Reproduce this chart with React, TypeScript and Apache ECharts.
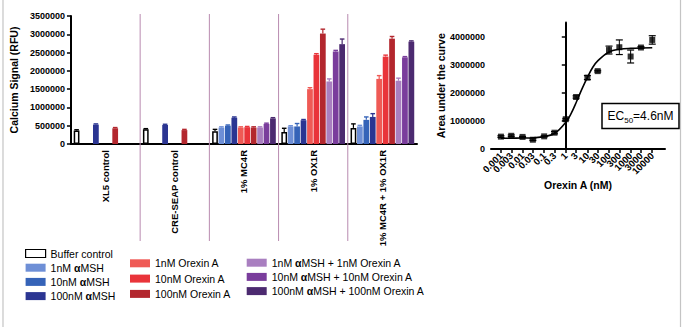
import React, { useEffect, useRef } from 'react';
import * as echarts from 'echarts';

// ---------- Left chart data ----------
const categories = ['XL5 control', 'CRE-SEAP control', '1% MC4R', '1% OX1R', '1% MC4R + 1% OX1R'];
const seriesNames = [
  'Buffer control',
  '1nM αMSH',
  '10nM αMSH',
  '100nM αMSH',
  '1nM Orexin A',
  '10nM Orexin A',
  '100nM Orexin A',
  '1nM αMSH + 1nM Orexin A',
  '10nM αMSH + 10nM Orexin A',
  '100nM αMSH + 100nM Orexin A',
];
const seriesColors = [
  '#ffffff', '#6e8fd6', '#3563b8', '#2b3592',
  '#ef5a55', '#e9343a', '#b3272e',
  '#a97fc0', '#7a3d9c', '#4c2a70',
];
const bufferControl = [370000, 400000, 350000, 330000, 440000];
const msh1 = [null, null, 450000, 480000, 480000];
const msh10 = [null, null, 500000, 480000, 660000];
const msh100 = [530000, 520000, 720000, 650000, 740000];
const orx1 = [null, null, 450000, 1500000, 1780000];
const orx10 = [null, null, 460000, 2440000, 2390000];
const orx100 = [430000, 380000, 450000, 3020000, 2880000];
const mix1 = [null, null, 450000, 1710000, 1730000];
const mix10 = [null, null, 550000, 2530000, 2370000];
const mix100 = [null, null, 700000, 2730000, 2800000];

const bufferErr = [20000, 20000, 50000, 100000, 110000];
const msh1Err = [null, null, 20000, 20000, 30000];
const msh10Err = [null, null, 20000, 80000, 80000];
const msh100Err = [20000, 20000, 20000, 20000, 90000];
const orx1Err = [null, null, 20000, 40000, 90000];
const orx10Err = [null, null, 20000, 30000, 40000];
const orx100Err = [20000, 20000, 20000, 120000, 60000];
const mix1Err = [null, null, 20000, 70000, 70000];
const mix10Err = [null, null, 20000, 30000, 20000];
const mix100Err = [null, null, 20000, 140000, 20000];

const barValues = [bufferControl, msh1, msh10, msh100, orx1, orx10, orx100, mix1, mix10, mix100];
const barErrors = [bufferErr, msh1Err, msh10Err, msh100Err, orx1Err, orx10Err, orx100Err, mix1Err, mix10Err, mix100Err];

// ---------- Right chart data ----------
const concentrations = [0.001, 0.003, 0.01, 0.03, 0.1, 0.3, 1, 3, 10, 30, 100, 300, 1000, 3000, 10000];
const concLabels = ['0.001', '0.003', '0.01', '0.03', '0.1', '0.3', '1', '3', '10', '30', '100', '300', '1000', '3000', '10000'];
const auc = [440000, 470000, 430000, 330000, 450000, 580000, 1060000, 1850000, 2540000, 2770000, 3520000, 3620000, 3290000, 3610000, 3880000];
const aucErr = [30000, 30000, 20000, 30000, 20000, 40000, 30000, 40000, 70000, 30000, 140000, 260000, 230000, 30000, 150000];
// fitted curve (x in log10 nM)
const curveLogConc = [-3, -2, -1.5, -1, -0.5, 0, 0.25, 0.5, 0.75, 1, 1.25, 1.5, 2, 2.5, 3, 4];
const curveAuc = [380000, 390000, 400000, 440000, 560000, 950000, 1270000, 1690000, 2140000, 2550000, 2910000, 3150000, 3450000, 3550000, 3580000, 3600000];
const aucTicks = [0, 1000000, 2000000, 3000000, 4000000];
const LOG_MIN = -3.46;
const LOG_MAX = 4.59;

const FONT = '"Liberation Sans", Arial, Helvetica, sans-serif';
const N = seriesNames.length;
const CAT_GAP = 0.08;
const BAR_GAP = 0.12;
const SEP_COLOR = '#b98bb0';

export default function App() {
  const ref = useRef<HTMLDivElement>(null);
  useEffect(() => {
    if (!ref.current) return;
    const chart = echarts.init(ref.current, null, { renderer: 'svg' });

    const barSeries = barValues.map((vals, si) => ({
      name: seriesNames[si],
      type: 'bar',
      xAxisIndex: 0,
      yAxisIndex: 0,
      data: vals,
      barGap: BAR_GAP * 100 + '%',
      barCategoryGap: CAT_GAP * 100 + '%',
      itemStyle: si === 0
        ? { color: '#ffffff', borderColor: '#000000', borderWidth: 1.5 }
        : { color: seriesColors[si] },
      emphasis: { disabled: true },
    }));

    const errData: number[][] = [];
    barValues.forEach((vals, si) => {
      vals.forEach((v, ci) => {
        const e = barErrors[si][ci];
        if (v != null && e != null) errData.push([ci, si, v as number, e as number]);
      });
    });

    const tok = { fontSize: 10.5, color: '#000', fontFamily: FONT, lineHeight: 12 };
    const legendCommon = {
      orient: 'vertical',
      itemWidth: 20,
      itemHeight: 8,
      padding: 0,
      icon: 'rect',
      selectedMode: false,
      formatter: (name: string) =>
        name
          .split('α')
          .map((s) => (s ? `{n|${s}}` : ''))
          .join('{b|α}'),
      textStyle: {
        ...tok,
        rich: {
          n: { ...tok, fontWeight: 'normal' },
          b: { ...tok, fontWeight: 'bold' },
        },
      },
    };

    const legendData = seriesNames.map((n, i) =>
      i === 0 ? { name: n, itemStyle: { color: '#fff', borderColor: '#000', borderWidth: 1.2 } } : { name: n }
    );

    const concLog = concentrations.map((c) => Math.log10(c));

    const option: any = {
      animation: false,
      textStyle: { fontFamily: FONT },
      grid: [
        { left: 65, top: 16, right: 268, bottom: 183 },
        { left: 491, top: 22.5, right: 20, bottom: 178 },
      ],
      legend: [
        { ...legendCommon, data: legendData.slice(0, 4), left: 25, top: 247.5, itemGap: 2.2 },
        { ...legendCommon, data: legendData.slice(4, 7), left: 130, top: 257.3, itemGap: 3.3 },
        { ...legendCommon, data: legendData.slice(7, 10), left: 246.7, top: 256.7, itemGap: 2.2 },
      ],
      xAxis: [
        {
          type: 'category',
          gridIndex: 0,
          data: categories,
          axisLine: { lineStyle: { color: '#000', width: 2 } },
          axisTick: { alignWithLabel: true, length: 4, lineStyle: { color: '#000', width: 1.5 } },
          axisLabel: { rotate: 90, fontSize: 9.5, fontWeight: 'bold', color: '#000', margin: 6, interval: 0 },
          splitLine: { show: false },
        },
        {
          type: 'value',
          gridIndex: 1,
          min: LOG_MIN,
          max: LOG_MAX,
          name: 'Orexin A (nM)',
          nameLocation: 'middle',
          nameGap: 28,
          nameTextStyle: { fontSize: 10.5, fontWeight: 'bold', color: '#000' },
          axisLine: { lineStyle: { color: '#000', width: 2 } },
          axisTick: { length: 4, customValues: concLog, lineStyle: { color: '#000', width: 1.5 } },
          axisLabel: {
            customValues: [LOG_MIN, ...concLog, LOG_MAX],
            rotate: 45,
            fontSize: 9.5,
            lineHeight: 6,
            fontWeight: 'bold',
            color: '#000',
            margin: 5,
            hideOverlap: false,
            formatter: (v: number) => {
              const i = concentrations.findIndex((c) => Math.abs(Math.log10(c) - v) < 1e-6);
              return i >= 0 ? concLabels[i] : '';
            },
          },
          splitLine: { show: false },
        },
      ],
      yAxis: [
        {
          type: 'value',
          gridIndex: 0,
          min: 0,
          max: 3500000,
          interval: 500000,
          name: 'Calcium Signal (RFU)',
          nameLocation: 'middle',
          nameGap: 46,
          nameTextStyle: { fontSize: 10.5, fontWeight: 'bold', color: '#000' },
          axisLine: { show: true, lineStyle: { color: '#000', width: 2 } },
          axisTick: { show: true, length: 4, lineStyle: { color: '#000', width: 1.5 } },
          axisLabel: { fontSize: 9, fontWeight: 'bold', color: '#000', margin: 6, formatter: (v: number) => String(v) },
          splitLine: { show: false },
        },
        {
          type: 'value',
          gridIndex: 1,
          min: 0,
          max: 4500000,
          name: 'Area under the curve',
          nameLocation: 'middle',
          nameGap: 45,
          nameTextStyle: { fontSize: 10.5, fontWeight: 'bold', color: '#000' },
          axisLine: { show: true, lineStyle: { color: '#000', width: 2 } },
          axisTick: { show: true, length: 4, customValues: aucTicks, lineStyle: { color: '#000', width: 1.5 } },
          axisLabel: { customValues: aucTicks, fontSize: 9, fontWeight: 'bold', color: '#000', margin: 6, formatter: (v: number) => String(v) },
          splitLine: { show: false },
        },
      ],
      series: [
        ...barSeries,
        {
          type: 'custom',
          name: 'bar-errors',
          xAxisIndex: 0,
          yAxisIndex: 0,
          data: errData,
          encode: { x: 0, y: 2 },
          z: 3,
          silent: true,
          renderItem: (_p: any, api: any) => {
            const cat = api.value(0);
            const si = api.value(1);
            const v = api.value(2);
            const e = api.value(3);
            const base = api.coord([cat, v]);
            const band = api.size([1, 0])[0];
            const usable = band * (1 - CAT_GAP);
            const bw = usable / (N + (N - 1) * BAR_GAP);
            const x = base[0] - usable / 2 + si * bw * (1 + BAR_GAP) + bw / 2;
            const top = api.coord([cat, v + e])[1];
            const color = si === 0 ? '#000' : seriesColors[si];
            const capW = bw * 0.4;
            return {
              type: 'group',
              children: [
                { type: 'line', shape: { x1: x, y1: base[1], x2: x, y2: top }, style: { stroke: color, lineWidth: 1.2 } },
                { type: 'line', shape: { x1: x - capW, y1: top, x2: x + capW, y2: top }, style: { stroke: color, lineWidth: 1.4 } },
              ],
            };
          },
        },
        {
          type: 'line',
          name: 'fit',
          xAxisIndex: 1,
          yAxisIndex: 1,
          data: curveLogConc.map((x, i) => [x, curveAuc[i]]),
          smooth: 0.4,
          showSymbol: false,
          symbol: 'none',
          lineStyle: { color: '#000', width: 1.6 },
          silent: true,
          z: 2,
        },
        {
          type: 'custom',
          name: 'auc-errors',
          xAxisIndex: 1,
          yAxisIndex: 1,
          data: concentrations.map((c, i) => [Math.log10(c), auc[i], aucErr[i]]),
          encode: { x: 0, y: 1 },
          z: 3,
          silent: true,
          renderItem: (_p: any, api: any) => {
            const x = api.value(0);
            const y = api.value(1);
            const e = api.value(2);
            const t = api.coord([x, y + e]);
            const b = api.coord([x, y - e]);
            return {
              type: 'group',
              children: [
                { type: 'line', shape: { x1: t[0], y1: t[1], x2: b[0], y2: b[1] }, style: { stroke: '#000', lineWidth: 1 } },
                { type: 'line', shape: { x1: t[0] - 3.5, y1: t[1], x2: t[0] + 3.5, y2: t[1] }, style: { stroke: '#000', lineWidth: 1.2 } },
                { type: 'line', shape: { x1: b[0] - 3.5, y1: b[1], x2: b[0] + 3.5, y2: b[1] }, style: { stroke: '#000', lineWidth: 1.2 } },
              ],
            };
          },
        },
        {
          type: 'scatter',
          name: 'auc',
          xAxisIndex: 1,
          yAxisIndex: 1,
          data: concentrations.map((c, i) => [Math.log10(c), auc[i]]),
          symbol: 'rect',
          symbolSize: 6,
          itemStyle: { color: '#000' },
          z: 4,
          silent: true,
        },
      ],
    };

    chart.setOption(option);

    // separators between categories, from the category scale
    const px = categories.map((_, i) => chart.convertToPixel({ xAxisIndex: 0 }, i) as number);
    const seps = [];
    for (let i = 0; i < px.length - 1; i++) {
      const x = (px[i] + px[i + 1]) / 2;
      seps.push({
        type: 'line',
        shape: { x1: x, y1: 14, x2: x, y2: 241 },
        style: { stroke: SEP_COLOR, lineWidth: 1 },
        z: 1,
        silent: true,
      });
    }

    chart.setOption({
      graphic: [
        ...seps,
        { type: 'line', shape: { x1: 3, y1: 0, x2: 3, y2: 327 }, style: { stroke: '#c4c4c4', lineWidth: 1.2 }, silent: true },
        { type: 'line', shape: { x1: 680.5, y1: 0, x2: 680.5, y2: 327 }, style: { stroke: '#c4c4c4', lineWidth: 1.2 }, silent: true },
        {
          type: 'rect',
          shape: { x: 602, y: 103.5, width: 77, height: 25 },
          style: { fill: '#fff', stroke: '#000', lineWidth: 1.5 },
          z: 10,
          silent: true,
        },
        {
          type: 'text',
          x: 640.5,
          y: 116,
          z: 11,
          silent: true,
          style: {
            text: '{a|EC}{s|50}{a|=4.6nM}',
            align: 'center',
            verticalAlign: 'middle',
            fontFamily: FONT,
            rich: {
              a: { fontSize: 12, lineHeight: 16, fill: '#000', fontFamily: FONT },
              s: { fontSize: 8, lineHeight: 9, verticalAlign: 'bottom', fill: '#000', fontFamily: FONT },
            },
          },
        },
      ],
    });

    return () => chart.dispose();
  }, []);

  return (
    <div
      ref={ref}
      style={{ position: 'fixed', left: 0, top: 0, width: 685, height: 327, background: '#fff' }}
    />
  );
}
